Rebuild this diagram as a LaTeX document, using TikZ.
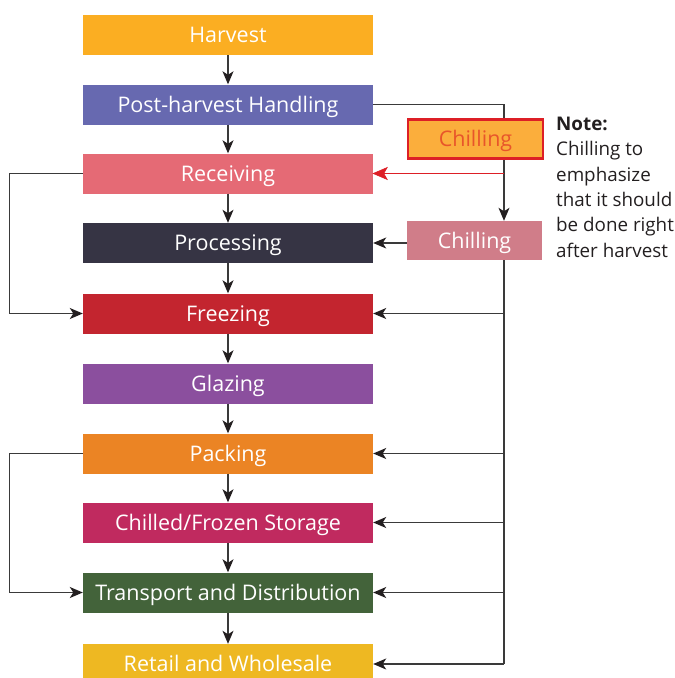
\documentclass[tikz,border=0pt]{standalone}
\usepackage{fontspec}
\setmainfont{Open Sans}
\usetikzlibrary{arrows.meta,calc}
\definecolor{cHarvest}{HTML}{FBAE22}
\definecolor{cPost}{HTML}{6769B0}
\definecolor{cRecv}{HTML}{E56A75}
\definecolor{cProc}{HTML}{363444}
\definecolor{cFreeze}{HTML}{C3252F}
\definecolor{cGlaze}{HTML}{8B4F9E}
\definecolor{cPack}{HTML}{EB8424}
\definecolor{cStore}{HTML}{C02A5F}
\definecolor{cTrans}{HTML}{43633A}
\definecolor{cRetail}{HTML}{EEB822}
\definecolor{cChillB}{HTML}{D07D89}
\definecolor{cChillA}{HTML}{FBAE3C}
\definecolor{cRedLine}{HTML}{DD1F26}
\definecolor{cRedText}{HTML}{E8552A}
\definecolor{cLine}{HTML}{3A3A3A}
\definecolor{cNote}{HTML}{231F20}
\tikzset{
  box/.style={draw=none, minimum width=290pt, minimum height=40pt, inner sep=0pt,
    text=white, font=\fontsize{21.5}{22}\selectfont, text height=15.4pt, text depth=0pt},
  chillbox/.style={minimum width=135pt, minimum height=39pt, inner sep=0pt,
    font=\fontsize{21.5}{22}\selectfont, text height=15.4pt, text depth=0pt},
  conn/.style={draw=cLine, line width=1.3pt, -{Stealth[length=13pt,width=11pt,inset=3.5pt,fill=cNote,color=cNote]}},
  plain/.style={draw=cLine, line width=1.3pt},
  redline/.style={draw=cRedLine, line width=1.5pt},
  redtip/.style={fill=cRedLine, draw=cRedLine, line width=0.6pt, line join=miter},
  notetext/.style={anchor=north west, align=left, text=cNote, inner sep=0pt,
    font=\fontsize{18.8}{25.3}\selectfont}
}
\begin{document}
\begin{tikzpicture}[x=1pt,y=-1pt]
\useasboundingbox (0,0) rectangle (675,678);
\node[box, fill=cHarvest] (harvest) at (228,35) {Harvest};
\node[box, fill=cPost] (post) at (228,104.5) {Post-harvest Handling};
\node[box, fill=cRecv] (recv) at (228,173.5) {Receiving};
\node[box, fill=cProc] (proc) at (228,243) {Processing};
\node[box, fill=cFreeze] (freeze) at (228,313.5) {Freezing};
\node[box, fill=cGlaze] (glaze) at (228,383.5) {Glazing};
\node[box, fill=cPack] (pack) at (228,453.5) {Packing};
\node[box, fill=cStore] (store) at (228,522.5) {Chilled/Frozen Storage};
\node[box, fill=cTrans] (trans) at (228,592.5) {Transport and Distribution};
\node[box, fill=cRetail] (retail) at (228,664) {Retail and Wholesale};
\node[chillbox, fill=cChillB, text=white] (chillB) at (474.5,240.5) {Chilling};
\coordinate (rx) at (504,0);
% main column arrows
\draw[conn] (harvest) -- (post);
\draw[conn] (post) -- (recv);
\draw[conn] (recv) -- (proc);
\draw[conn] (proc) -- (freeze);
\draw[conn] (freeze) -- (glaze);
\draw[conn] (glaze) -- (pack);
\draw[conn] (pack) -- (store);
\draw[conn] (store) -- (trans);
\draw[conn] (trans) -- (retail);
% left loops
\draw[conn] (recv.west) -- ++(-73,0) |- (freeze.west);
\draw[conn] (pack.west) -- ++(-73,0) |- (trans.west);
% right side
\draw[conn] (post.east) -| (chillB.north -| rx);
\node[chillbox, fill=cChillA, draw=cRedLine, line width=2.2pt, text=cRedText] (chillA) at (475.5,139) {Chilling};
\draw[redline] (rx |- recv.east) -- ($(recv.east)+(10,0)$);
\path[redtip] (recv.east) -- ++(14,-6) -- ++(-3.5,6) -- ++(3.5,6) -- cycle;
\draw[conn] (chillB.west |- proc.east) -- (proc.east);
\draw[plain] (chillB.south -| rx) -- (rx |- retail.east);
\draw[conn] (rx |- retail.east) -- (retail.east);
\draw[conn] (rx |- freeze.east) -- (freeze.east);
\draw[conn] (rx |- pack.east) -- (pack.east);
\draw[conn] (rx |- store.east) -- (store.east);
\draw[conn] (rx |- trans.east) -- (trans.east);
% note
\node[notetext] (note) at (556,117) {\textbf{Note:}\\Chilling to\\emphasize\\that it should\\be done right\\after harvest};
\end{tikzpicture}
\end{document}
